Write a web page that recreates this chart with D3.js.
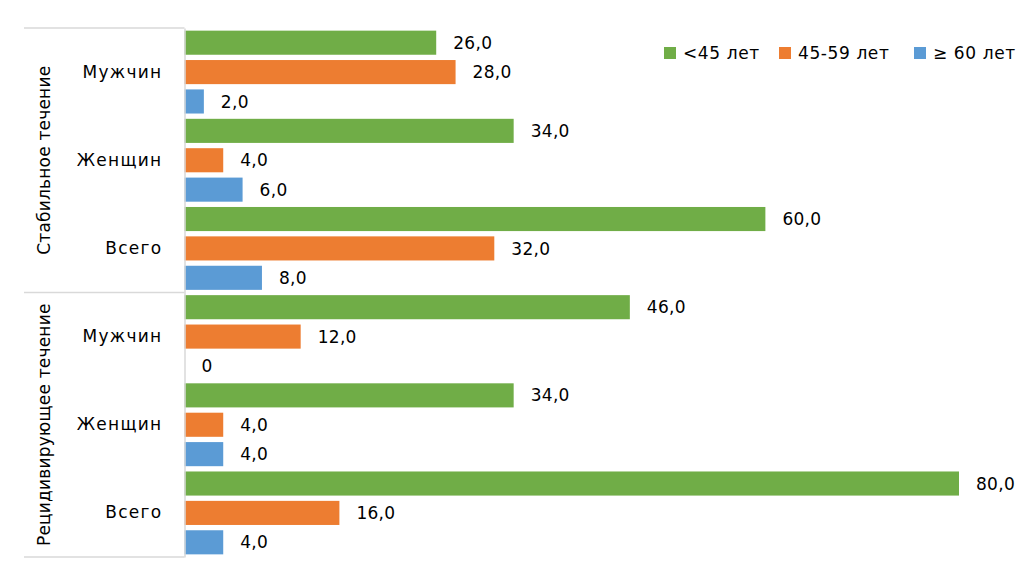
<!DOCTYPE html>
<html>
<head>
<meta charset="utf-8">
<script src="https://cdn.jsdelivr.net/npm/d3@7"></script>
<style>
  body { margin: 0; background: #fff; }
  text { font-family: "DejaVu Sans", Verdana, sans-serif; fill: #000; }
</style>
</head>
<body>
<script>
"use strict";

// Data

const groups = ['Стабильное течение', 'Рецидивирующее течение'];
const categories = ['Мужчин', 'Женщин', 'Всего'];
const series = ['<45 лет', '45-59 лет', '≥ 60 лет'];
const colors = ['#70AD47', '#ED7D31', '#5B9BD5'];

// values[group][category][series]
const stableValues = [[26, 28, 2], [34, 4, 6], [60, 32, 8]];
const recurrentValues = [[46, 12, 0], [34, 4, 4], [80, 16, 4]];
const values = [stableValues, recurrentValues];

// Size parameters

const width = 1036;
const height = 573;
const plotTop = 28;
const plotBottom = 557;
const axisX = 184.5;
const plotRight = 959;
const groupLineLeft = 24;
const fontSize = 17;

const rows = [];
groups.forEach((g, gi) => categories.forEach((c, ci) => series.forEach((s, si) => {
    rows.push({ key: `${gi}|${ci}|${si}`, cat: `${gi}|${ci}`, group: gi, series: si, value: values[gi][ci][si] });
})));

const svg = d3.select('body').append('svg')
    .attr('width', width)
    .attr('height', height);

const x = d3.scaleLinear().domain([0, 80]).range([axisX, plotRight]);

const y = d3.scaleBand()
    .domain(rows.map(d => d.key))
    .range([plotTop, plotBottom])
    .paddingInner(0.18)
    .paddingOuter(0.09);

const yCat = d3.scaleBand()
    .domain(rows.map(d => d.cat).filter((v, i, a) => a.indexOf(v) === i))
    .range([plotTop, plotBottom]);

const yGroup = d3.scaleBand().domain(groups.map((g, i) => i)).range([plotTop, plotBottom]);

/********
 * Bars *
 ********/

svg.selectAll('rect.bar')
    .data(rows)
    .enter()
    .append('rect')
    .classed('bar', true)
    .attr('x', x(0))
    .attr('y', d => y(d.key))
    .attr('width', d => x(d.value) - x(0))
    .attr('height', y.bandwidth())
    .attr('fill', d => colors[d.series]);

// Value labels
svg.selectAll('text.label')
    .data(rows)
    .enter()
    .append('text')
    .classed('label', true)
    .attr('x', d => x(d.value) + 17)
    .attr('y', d => y(d.key) + y.bandwidth() / 2)
    .attr('dy', '0.36em')
    .style('font-size', fontSize + 'px')
    .style('letter-spacing', '0.3px')
    .text(d => d.value === 0 ? '0' : d3.format('.1f')(d.value).replace('.', ','));

/********
 * Axis *
 ********/

const axis = svg.append('g')
    .attr('transform', `translate(${axisX},0)`)
    .call(d3.axisLeft(yCat).tickSize(0).tickPadding(22).tickFormat(d => categories[+d.split('|')[1]]));

axis.select('.domain').attr('stroke', '#D9D9D9').attr('stroke-width', 1.5);
axis.selectAll('text')
    .style('font-size', fontSize + 'px')
    .style('font-family', '"DejaVu Sans", Verdana, sans-serif')
    .style('letter-spacing', '1.3px')
    .attr('fill', '#000');

// Group separators
const boundaries = [plotTop].concat(groups.map((g, i) => yGroup(i) + yGroup.bandwidth()));
svg.selectAll('line.sep')
    .data(boundaries)
    .enter()
    .append('line')
    .classed('sep', true)
    .attr('x1', groupLineLeft)
    .attr('x2', axisX)
    .attr('y1', d => d)
    .attr('y2', d => d)
    .attr('stroke', '#D9D9D9')
    .attr('stroke-width', 1.5);

// Group labels
svg.selectAll('text.group')
    .data(groups)
    .enter()
    .append('text')
    .classed('group', true)
    .attr('text-anchor', 'middle')
    .attr('transform', (d, i) => `translate(50,${yGroup(i) + yGroup.bandwidth() / 2}) rotate(-90)`)
    .style('font-size', fontSize + 'px')
    .style('letter-spacing', '0.2px')
    .text(d => d);

/**********
 * Legend *
 **********/

const legendX = [664, 779, 914];
const legend = svg.selectAll('g.legend')
    .data(series)
    .enter()
    .append('g')
    .classed('legend', true)
    .attr('transform', (d, i) => `translate(${legendX[i]},53)`);

legend.append('rect')
    .attr('x', 0)
    .attr('y', -6)
    .attr('width', 12)
    .attr('height', 12)
    .attr('fill', (d, i) => colors[i]);

legend.append('text')
    .attr('x', 19)
    .attr('dy', '0.36em')
    .style('font-size', fontSize + 'px')
    .style('letter-spacing', '0.6px')
    .text(d => d);
</script>
</body>
</html>
